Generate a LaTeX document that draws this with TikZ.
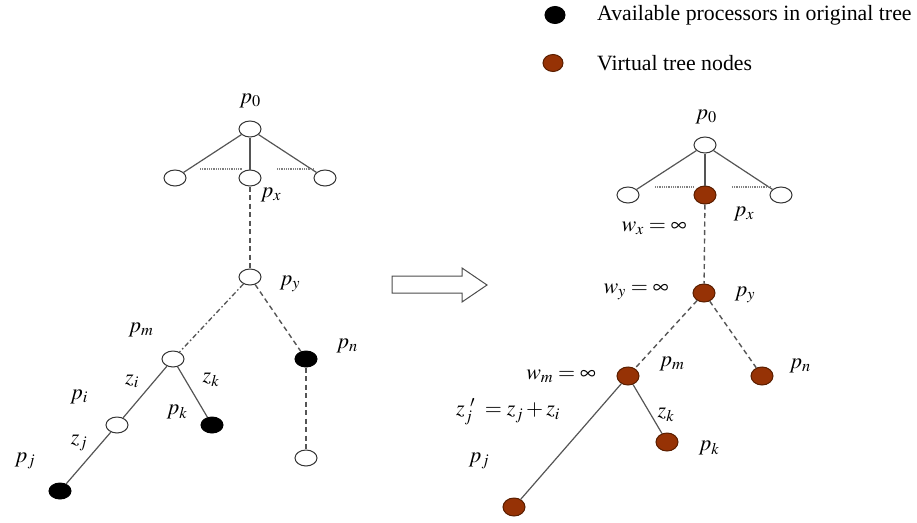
\documentclass[tikz,border=0pt]{standalone}
\usepackage{mathptmx}
\usepackage{fontspec}
\setmainfont{Liberation Serif}
\usetikzlibrary{shapes.geometric}
\definecolor{rust}{RGB}{150,50,5}
\definecolor{rustdark}{RGB}{90,30,0}
\definecolor{edgegray}{RGB}{85,85,85}
\tikzset{
  tnode/.style={ellipse,draw=black!80,line width=1pt,minimum width=22pt,minimum height=16pt,inner sep=0pt},
  wnode/.style={tnode,fill=white},
  bnode/.style={tnode,fill=black,draw=black},
  rnode/.style={tnode,fill=rust,draw=rustdark,minimum height=18pt},
  lab/.style={font=\fontsize{22}{26}\selectfont,inner sep=0pt},
  legtext/.style={font=\fontsize{21.8}{24}\selectfont,anchor=west,inner sep=0pt},
  solidedge/.style={draw=edgegray,line width=1.2pt},
  dashedge/.style={draw=edgegray,line width=1.4pt,dash pattern=on 5pt off 3.5pt},
  dashdotedge/.style={draw=edgegray,line width=1.3pt,dash pattern=on 5pt off 2.5pt on 1.5pt off 2.5pt},
  dotedge/.style={draw=black!50,line width=1.2pt,dash pattern=on 1pt off 0.8pt},
}
\begin{document}
\begin{tikzpicture}[x=1pt,y=-1pt]
\useasboundingbox (0,0) rectangle (917,522);
% legend
\node[bnode,minimum width=20pt,minimum height=17pt] (lb) at (555,15) {};
\node[legtext] (lbt) at (597,15) {Available processors in original tree};
\node[rnode,minimum width=20pt,minimum height=17pt] (lr) at (553,63) {};
\node[legtext] (lrt) at (597,63) {Virtual tree nodes};

% ---------- left tree ----------
\node[wnode] (L0) at (250,129) {};
\node[wnode] (La) at (175,178) {};
\node[wnode] (Lx) at (250,178) {};
\node[wnode] (Lb) at (325,178) {};
\node[wnode] (Ly) at (250,277) {};
\node[wnode] (Lm) at (173,359) {};
\node[bnode] (Ln) at (306,359) {};
\node[wnode] (Lnb) at (306,458) {};
\node[wnode] (Li) at (117,425) {};
\node[bnode] (Lk) at (212,425) {};
\node[bnode] (Lj) at (60,491) {};
\coordinate (Ld1a) at (200,169); \coordinate (Ld1b) at (242,169);
\coordinate (Ld2a) at (277,169); \coordinate (Ld2b) at (314,169);

\path[solidedge] (L0) -- (La);
\path[solidedge] (L0) -- (Lx);
\path[solidedge] (L0) -- (Lb);
\path[dotedge] (Ld1a) -- (Ld1b);
\path[dotedge] (Ld2a) -- (Ld2b);
\path[dashedge] (Lx) -- (Ly);
\path[dashdotedge] (Ly) -- (Lm);
\path[dashedge] (Ly) -- (Ln);
\path[dashedge] (Ln) -- (Lnb);
\path[solidedge] (Lm) -- (Li);
\path[solidedge] (Lm) -- (Lk);
\path[solidedge] (Li) -- (Lj);

\node[lab] (lL0) at (250,101) {$p_0$};
\node[lab] (lLx) at (271,195) {$p_x$};
\node[lab] (lLy) at (290,284) {$p_y$};
\node[lab] (lLm) at (141,330) {$p_m$};
\node[lab] (lLn) at (347,346) {$p_n$};
\node[lab] (lzi) at (132,381) {$z_i$};
\node[lab] (lzk) at (211,380) {$z_k$};
\node[lab] (lLi) at (79,397) {$p_i$};
\node[lab] (lLk) at (177,412) {$p_k$};
\node[lab] (lzj) at (79,443) {$z_j$};
\node[lab] (lLj) at (25,461) {$p_j$};

% ---------- arrow ----------
\draw[draw=black!70,line width=1pt,fill=white] (392,276) -- (462,276) -- (462,268) -- (487,285) -- (462,302) -- (462,293) -- (392,293) -- cycle;

% ---------- right tree ----------
\node[wnode] (R0) at (705,145) {};
\node[wnode] (Ra) at (628,195) {};
\node[rnode] (Rx) at (705,195) {};
\node[wnode] (Rb) at (781,195) {};
\node[rnode] (Ry) at (704,293) {};
\node[rnode] (Rm) at (628,376) {};
\node[rnode] (Rn) at (762,376) {};
\node[rnode] (Rk) at (667,442) {};
\node[rnode] (Rj) at (514,507) {};
\coordinate (Rd1a) at (655,187); \coordinate (Rd1b) at (693,187);
\coordinate (Rd2a) at (732,187); \coordinate (Rd2b) at (770,187);

\path[solidedge] (R0) -- (Ra);
\path[solidedge] (R0) -- (Rx);
\path[solidedge] (R0) -- (Rb);
\path[dotedge] (Rd1a) -- (Rd1b);
\path[dotedge] (Rd2a) -- (Rd2b);
\path[dashedge] (Rx) -- (Ry);
\path[dashedge] (Ry) -- (Rm);
\path[dashedge] (Ry) -- (Rn);
\path[solidedge] (Rm) -- (Rk);
\path[solidedge] (Rm) -- (Rj);

\node[lab] (lR0) at (706,117) {$p_0$};
\node[lab] (lRx) at (744,214) {$p_x$};
\node[lab] (lwx) at (654,228) {$w_x=\infty$};
\node[lab] (lRy) at (745,295) {$p_y$};
\node[lab] (lwy) at (636,292) {$w_y=\infty$};
\node[lab] (lRm) at (672,364) {$p_m$};
\node[lab] (lwm) at (561,376) {$w_m=\infty$};
\node[lab] (lRn) at (800,366) {$p_n$};
\node[lab] (lzjp) at (508,412) {$z_j^{\;\,\prime}\;=z_j+z_i$};
\node[lab] (lzk2) at (666,415) {$z_k$};
\node[lab] (lRk) at (709,448) {$p_k$};
\node[lab] (lRj) at (479,461) {$p_j$};
\end{tikzpicture}
\end{document}
